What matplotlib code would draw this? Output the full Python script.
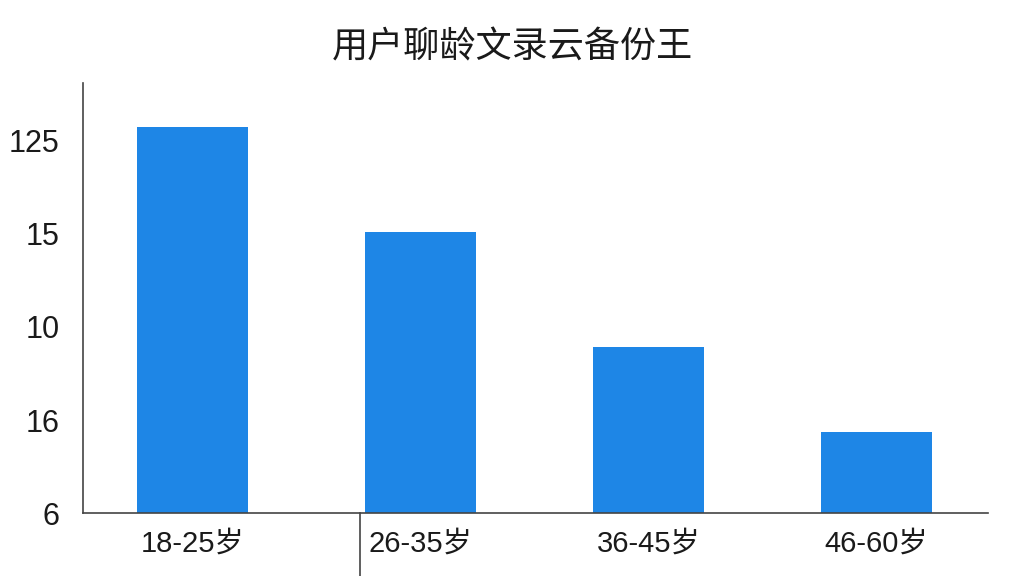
import matplotlib
matplotlib.use("Agg")
import matplotlib.pyplot as plt
from matplotlib.lines import Line2D

plt.rcParams['font.family'] = ['Noto Sans CJK SC', 'DejaVu Sans']

title = "用户聊龄文录云备份王"
categories = ["18-25岁", "26-35岁", "36-45岁", "46-60岁"]
# bar heights measured in units of the (evenly spaced) y tick grid
values = [4.15, 3.02, 1.78, 0.87]
ytick_labels = ["6", "16", "10", "15", "125"]

fig = plt.figure(figsize=(10.24, 5.76), dpi=100)
ax = fig.add_axes([0.081, 0.109, 0.884, 0.747])

x = list(range(len(categories)))
ax.bar(x, values, width=0.49, color="#1e86e6")

ax.set_xlim(-0.48, 3.49)
ax.set_ylim(0, 4.62)
ax.set_yticks(range(len(ytick_labels)))
ax.set_yticklabels(ytick_labels, fontsize=22, family=['Liberation Sans', 'DejaVu Sans'])
ax.set_xticks(x)
ax.set_xticklabels(categories, fontsize=21, family=['Liberation Sans', 'Noto Sans CJK SC'])
ax.tick_params(axis='y', length=0, pad=17, colors='#1a1a1a')
ax.tick_params(axis='x', length=0, pad=12, colors='#1a1a1a')

for s in ['top', 'right']:
    ax.spines[s].set_visible(False)
for s in ['left', 'bottom']:
    ax.spines[s].set_color('#444444')
    ax.spines[s].set_linewidth(1.2)

fig.text(0.5, 1 - 47/576, title, ha='center', va='center', fontsize=26, color='#1a1a1a')

fig.add_artist(Line2D([360/1024, 360/1024], [0, 1 - 513/576], color='#444444', lw=1.2))

fig.savefig("out.png", dpi=100)
